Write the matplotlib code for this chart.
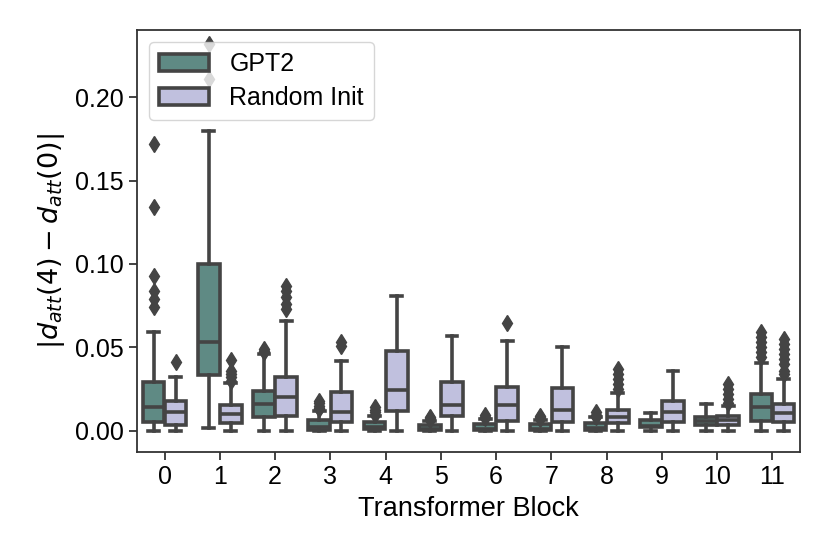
import matplotlib.pyplot as plt
from matplotlib.patches import Patch

plt.rcParams['font.family'] = ['Liberation Sans', 'DejaVu Sans']
plt.rcParams['mathtext.fontset'] = 'dejavusans'

blocks = list(range(12))
series = ['GPT2', 'Random Init']

# per-block box summaries
gpt2_q1 = [0.0054, 0.0334, 0.008, 0.0007, 0.0008, 0.0003, 0.0004, 0.0004, 0.0005, 0.0022, 0.0034, 0.0058]
gpt2_med = [0.0145, 0.0534, 0.0163, 0.002, 0.002, 0.001, 0.0012, 0.0012, 0.0015, 0.003, 0.006, 0.0144]
gpt2_q3 = [0.029, 0.100, 0.024, 0.0062, 0.0052, 0.0035, 0.004, 0.0042, 0.0045, 0.0064, 0.0085, 0.0218]
gpt2_lo = [0.0, 0.0016, 0.0, 0.0, 0.0, 0.0, 0.0, 0.0, 0.0, 0.0, 0.0, 0.0]
gpt2_hi = [0.059, 0.1795, 0.046, 0.012, 0.009, 0.006, 0.007, 0.0065, 0.008, 0.0105, 0.0158, 0.0406]
gpt2_fliers = [
    [0.172, 0.134, 0.093, 0.084, 0.079, 0.074],
    [0.232, 0.211],
    [0.049, 0.048, 0.047],
    [0.018, 0.0165, 0.015, 0.0135, 0.013],
    [0.0145, 0.0125, 0.011, 0.0095],
    [0.0085, 0.0075, 0.0065],
    [0.0095, 0.0085, 0.0075],
    [0.009, 0.008, 0.007],
    [0.011, 0.0095, 0.0085],
    [],
    [],
    [0.059, 0.056, 0.053, 0.050, 0.047, 0.044],
]

rand_q1 = [0.0036, 0.0046, 0.0086, 0.0054, 0.012, 0.0087, 0.0056, 0.0054, 0.0048, 0.0054, 0.0034, 0.0054]
rand_med = [0.011, 0.010, 0.0205, 0.011, 0.0242, 0.0153, 0.0153, 0.0123, 0.0084, 0.0114, 0.0064, 0.0108]
rand_q3 = [0.018, 0.0154, 0.032, 0.023, 0.0476, 0.0295, 0.0265, 0.0259, 0.0124, 0.018, 0.0088, 0.0158]
rand_lo = [0.0] * 12
rand_hi = [0.0325, 0.0286, 0.0657, 0.042, 0.081, 0.057, 0.054, 0.0505, 0.0226, 0.0358, 0.015, 0.031]
rand_fliers = [
    [0.041],
    [0.0425, 0.036, 0.034, 0.032, 0.030],
    [0.087, 0.084, 0.080, 0.076, 0.073],
    [0.053, 0.051],
    [],
    [],
    [0.0645],
    [],
    [0.037, 0.034, 0.031, 0.028, 0.025],
    [],
    [0.028, 0.025, 0.022, 0.019, 0.0165],
    [0.055, 0.052, 0.049, 0.046, 0.043, 0.040, 0.036, 0.034],
]

colors = ['#5f8a84', '#c0c0de']
edge = '#444444'
lw = 2.6


def make_stats(q1, med, q3, lo, hi, fl):
    return [dict(q1=a, med=b, q3=c, whislo=d, whishi=e, fliers=f)
            for a, b, c, d, e, f in zip(q1, med, q3, lo, hi, fl)]


fig = plt.figure(figsize=(8.3, 5.54), dpi=100)
ax = fig.add_axes([0.165, 0.184, 0.799, 0.762])

all_stats = [
    make_stats(gpt2_q1, gpt2_med, gpt2_q3, gpt2_lo, gpt2_hi, gpt2_fliers),
    make_stats(rand_q1, rand_med, rand_q3, rand_lo, rand_hi, rand_fliers),
]

for k, stats in enumerate(all_stats):
    pos = [b - 0.2 + 0.4 * k for b in blocks]
    ax.bxp(stats, positions=pos, widths=0.392, patch_artist=True,
           showfliers=True,
           boxprops=dict(facecolor=colors[k], edgecolor=edge, linewidth=lw),
           medianprops=dict(color=edge, linewidth=lw),
           whiskerprops=dict(color=edge, linewidth=lw),
           capprops=dict(color=edge, linewidth=lw),
           flierprops=dict(marker='d', markerfacecolor=edge, markeredgecolor=edge,
                           markersize=8.5, linestyle='none'))

ax.set_xlim(-0.5, 11.5)
ax.set_ylim(-0.0128, 0.2404)
ax.set_xticks(blocks)
ax.set_xticklabels([str(b) for b in blocks])
ax.set_yticks([0.0, 0.05, 0.10, 0.15, 0.20])
ax.set_yticklabels(['0.00', '0.05', '0.10', '0.15', '0.20'])
ax.tick_params(labelsize=18, width=1.3, length=6, color='#333333')
for s in ax.spines.values():
    s.set_linewidth(1.3)
    s.set_color('#333333')

ax.set_xlabel('Transformer Block', fontsize=19.5, labelpad=5)
ax.set_ylabel(r'$|d_{att}(4) - d_{att}(0)|$', fontsize=19.5, labelpad=6)

handles = [Patch(facecolor=colors[k], edgecolor=edge, linewidth=lw, label=series[k]) for k in range(2)]
ax.legend(handles=handles, loc='upper left', fontsize=18, framealpha=0.8,
          borderpad=0.4, labelspacing=0.4)

fig.savefig('out.png', dpi=100)
